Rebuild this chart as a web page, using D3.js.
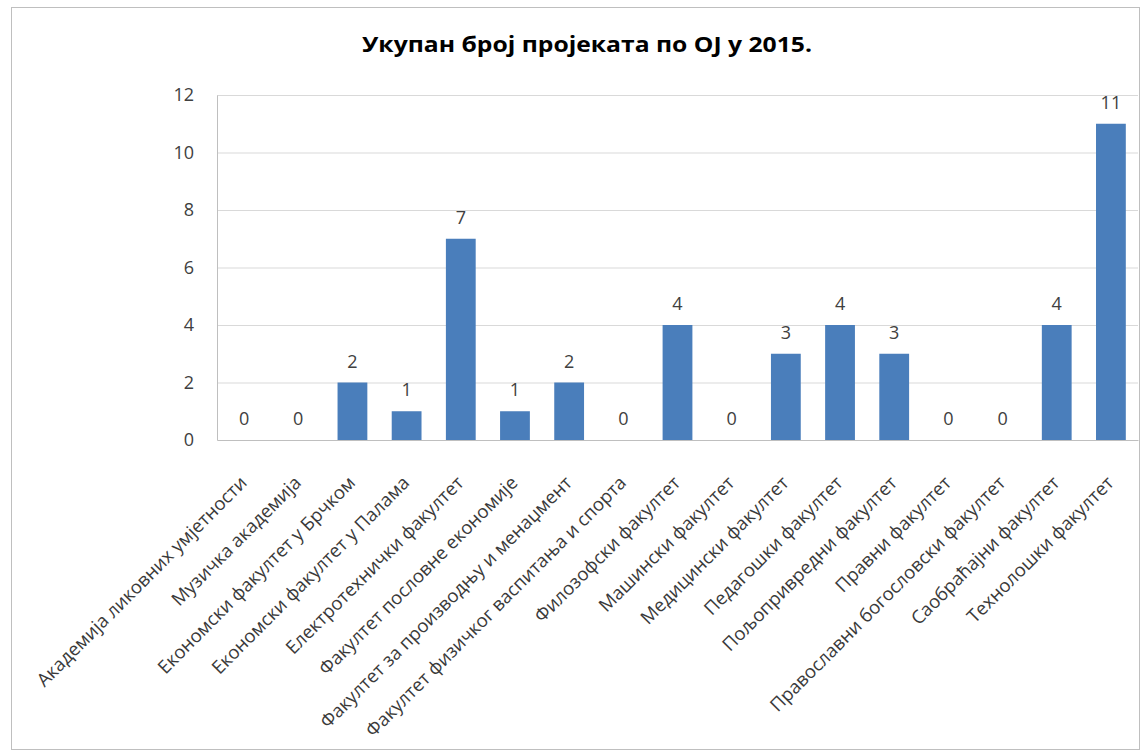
<!DOCTYPE html>
<html>
<head>
<meta charset="utf-8">
<script src="https://cdn.jsdelivr.net/npm/d3@7"></script>
<style>
  body { margin: 0; background: #fff; }
  svg { display: block; font-family: "Open Sans", sans-serif; }
</style>
</head>
<body>
<svg id="chart" width="1144" height="753"></svg>
<script>
var title = 'Укупан број пројеката по ОЈ у 2015.';
var categories = [
  'Академија ликовних умјетности',
  'Музичка академија',
  'Економски факултет у Брчком',
  'Економски факултет у Палама',
  'Електротехнички факултет',
  'Факултет пословне економије',
  'Факултет за производњу и менаџмент',
  'Факултет физичког васпитања и спорта',
  'Филозофски факултет',
  'Машински факултет',
  'Медицински факултет',
  'Педагошки факултет',
  'Пољопривредни факултет',
  'Правни факултет',
  'Православни богословски факултет',
  'Саобраћајни факултет',
  'Технолошки факултет'
];
var values = [0, 0, 2, 1, 7, 1, 2, 0, 4, 0, 3, 4, 3, 0, 0, 4, 11];
var yTicks = [0, 2, 4, 6, 8, 10, 12];

var svg = d3.select('#chart');
var margin = {left: 217, right: 1138, top: 95, bottom: 440};

// frame
svg.append('rect')
  .attr('x', 11.5).attr('y', 7.5)
  .attr('width', 1128).attr('height', 742)
  .attr('fill', 'none').attr('stroke', '#bfbfbf');

var x = d3.scaleBand()
  .domain(categories)
  .range([margin.left, margin.right])
  .paddingInner(0.45).paddingOuter(0.225);

var y = d3.scaleLinear()
  .domain([0, 12])
  .range([margin.bottom, margin.top]);

// grid
svg.append('g')
  .selectAll('line')
  .data(yTicks.filter(function(d) { return d > 0; }))
  .enter().append('line')
  .attr('x1', margin.left).attr('x2', margin.right)
  .attr('y1', function(d) { return y(d) + 0.5; })
  .attr('y2', function(d) { return y(d) + 0.5; })
  .attr('stroke', '#d9d9d9');

// y axis
var yAxis = svg.append('g')
  .attr('transform', 'translate(' + margin.left + ',0)')
  .call(d3.axisLeft(y).tickValues(yTicks).tickSize(0).tickPadding(23));
yAxis.select('.domain').attr('stroke', '#bfbfbf');
yAxis.selectAll('text')
  .attr('font-size', 18).attr('fill', '#404040')
  .attr('font-family', '"Open Sans", sans-serif');

// bars
svg.append('g')
  .selectAll('rect')
  .data(values)
  .enter().append('rect')
  .attr('x', function(d, i) { return x(categories[i]); })
  .attr('y', function(d) { return y(d); })
  .attr('width', x.bandwidth())
  .attr('height', function(d) { return y(0) - y(d); })
  .attr('fill', '#4a7ebb');

// data labels
svg.append('g')
  .selectAll('text')
  .data(values)
  .enter().append('text')
  .attr('x', function(d, i) { return x(categories[i]) + x.bandwidth() / 2; })
  .attr('y', function(d) { return y(d) - 15; })
  .attr('text-anchor', 'middle')
  .attr('font-size', 18).attr('fill', '#404040')
  .text(function(d) { return d; });

// x axis
var xAxis = svg.append('g')
  .attr('transform', 'translate(0,' + margin.bottom + ')')
  .call(d3.axisBottom(x).tickSize(0).tickPadding(0));
xAxis.select('.domain').attr('stroke', '#bfbfbf');
xAxis.selectAll('text')
  .attr('font-size', 18.5).attr('fill', '#3a3a3a')
  .attr('font-family', '"Open Sans", sans-serif')
  .attr('text-anchor', 'end')
  .attr('dy', null)
  .attr('transform', 'translate(4,44) rotate(-45)');

// title
svg.append('text')
  .attr('x', 587).attr('y', 52)
  .attr('text-anchor', 'middle')
  .attr('font-size', 22).attr('font-weight', 'bold')
  .attr('textLength', 450).attr('lengthAdjust', 'spacingAndGlyphs')
  .attr('fill', '#000')
  .text(title);
</script>
</body>
</html>
